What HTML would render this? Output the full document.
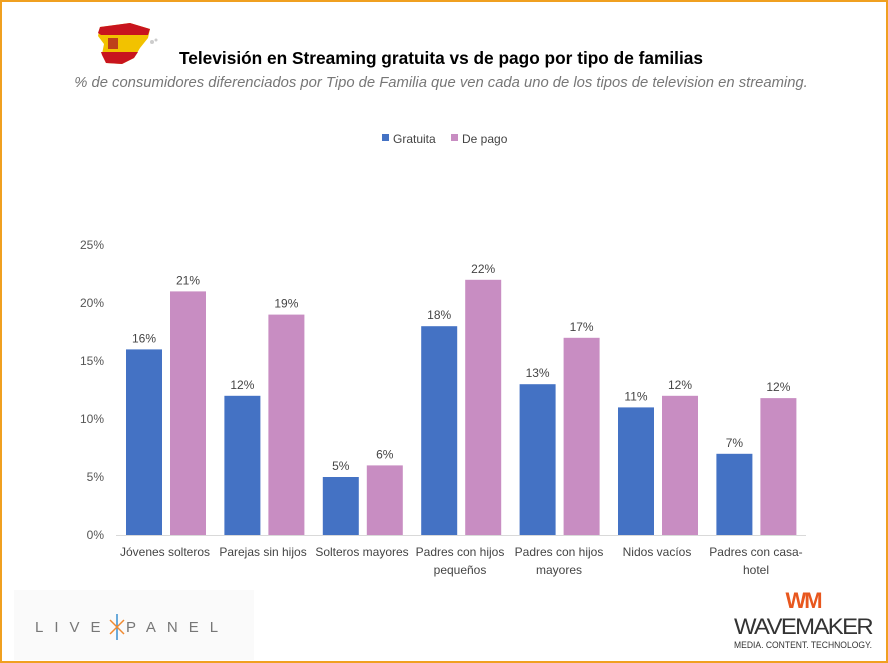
<!DOCTYPE html>
<html><head><meta charset="utf-8"><style>
html,body{margin:0;padding:0;background:#fff}
#w{position:relative;width:884px;height:659px;border:2px solid #F0A020;overflow:hidden;font-family:"Liberation Sans",sans-serif}
svg text{font-family:"Liberation Sans",sans-serif}
</style></head><body><div id="w">
<svg width="884" height="659" viewBox="2 2 884 659" xmlns="http://www.w3.org/2000/svg">
<path d="M100 27 L130 23 L150 29 L148 38 L140 48 L134 58 L122 64 L106 63 L102 54 L104 44 L98 36 Z" fill="#F2C200"/>
<path d="M100 27 L130 23 L150 29 L148 35 L101 35 L98 33 Z" fill="#C8141E"/>
<path d="M101 52 L138 52 L134 58 L122 64 L106 63 L102 55 Z" fill="#C8141E"/>
<rect x="108" y="38" width="10" height="11" fill="#B02020" opacity="0.8"/>
<circle cx="152" cy="42" r="2" fill="#ccc"/><circle cx="156" cy="40" r="1.5" fill="#ccc"/>
<text x="441" y="64" text-anchor="middle" font-size="17.3" font-weight="bold" fill="#000">Televisión en Streaming gratuita vs de pago por tipo de familias</text>
<text x="441" y="87" text-anchor="middle" font-size="14.8" font-style="italic" fill="#777">% de consumidores diferenciados por Tipo de Familia que ven cada uno de los tipos de television en streaming.</text>
<rect x="382" y="134" width="7" height="7" fill="#4472C4"/>
<text x="393" y="143" font-size="12" fill="#444">Gratuita</text>
<rect x="451" y="134" width="7" height="7" fill="#C88DC2"/>
<text x="462" y="143" font-size="12" fill="#444">De pago</text>
<g font-size="12" fill="#555" text-anchor="end">
<text x="104" y="539">0%</text><text x="104" y="481">5%</text><text x="104" y="423">10%</text>
<text x="104" y="365">15%</text><text x="104" y="307">20%</text><text x="104" y="249">25%</text>
</g>
<line x1="116" y1="535.5" x2="806" y2="535.5" stroke="#d9d9d9" stroke-width="1"/>
<g id="bars"></g>
<g font-size="12" fill="#444" text-anchor="middle">
<text x="165" y="556">Jóvenes solteros</text>
<text x="263" y="556">Parejas sin hijos</text>
<text x="362" y="556">Solteros mayores</text>
<text x="460" y="556">Padres con hijos</text><text x="460" y="574">pequeños</text>
<text x="559" y="556">Padres con hijos</text><text x="559" y="574">mayores</text>
<text x="657" y="556">Nidos vacíos</text>
<text x="756" y="556">Padres con casa-</text><text x="756" y="574">hotel</text>
</g>
<rect x="14" y="590" width="240" height="70" fill="#fafafa"/>
<text x="35" y="632" font-size="15" fill="#777" letter-spacing="11">LIVE</text>
<text x="126" y="632" font-size="15" fill="#777" letter-spacing="11">PANEL</text>
<g stroke="#3a8fd0" stroke-width="1.5"><line x1="117" y1="614" x2="117" y2="640"/><line x1="110" y1="620" x2="124" y2="634" stroke="#f08a30"/><line x1="124" y1="620" x2="110" y2="634" stroke="#f08a30"/></g>
<text x="803" y="608" text-anchor="middle" font-size="22" font-weight="bold" fill="#E8571E" letter-spacing="-2">WM</text>
<text x="803" y="634" text-anchor="middle" font-size="22" fill="#333" letter-spacing="-1.5" textLength="138" lengthAdjust="spacingAndGlyphs">WAVEMAKER</text>
<text x="803" y="648" text-anchor="middle" font-size="9" fill="#333" textLength="138" lengthAdjust="spacingAndGlyphs">MEDIA. CONTENT. TECHNOLOGY.</text>
</svg>
<script>
var b=[16,12,5,18,13,11,7],p=[21,19,6,22,17,12,11.8],pl=[21,19,6,22,17,12,12];
var g=document.getElementById('bars'),s='';
for(var i=0;i<7;i++){var x=126+i*98.4;
var hb=b[i]*11.6,hp=p[i]*11.6;
s+='<rect x="'+x+'" y="'+(535-hb)+'" width="36" height="'+hb+'" fill="#4472C4"/>';
s+='<rect x="'+(x+44)+'" y="'+(535-hp)+'" width="36" height="'+hp+'" fill="#C88DC2"/>';
s+='<text x="'+(x+18)+'" y="'+(535-hb-7)+'" font-size="12" fill="#444" text-anchor="middle">'+b[i]+'%</text>';
s+='<text x="'+(x+62)+'" y="'+(535-hp-7)+'" font-size="12" fill="#444" text-anchor="middle">'+pl[i]+'%</text>';}
g.innerHTML=s;
</script>
</div></body></html>
